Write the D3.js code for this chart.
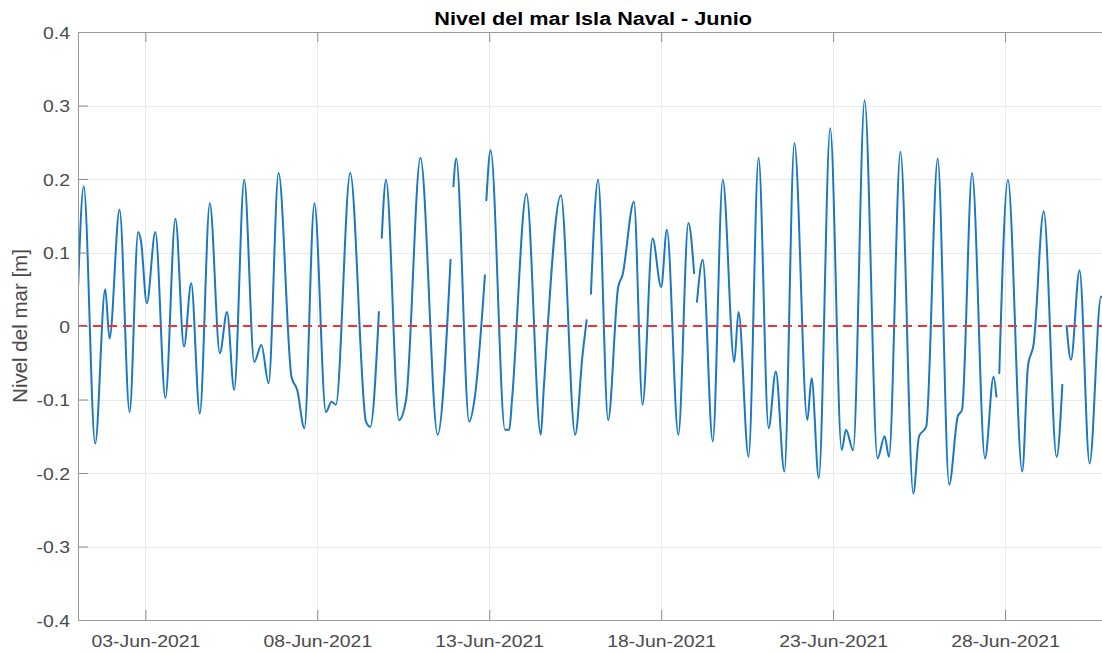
<!DOCTYPE html>
<html>
<head>
<meta charset="utf-8">
<script src="https://cdn.jsdelivr.net/npm/d3@7"></script>
<style>
  body { margin: 0; background: #fff; }
  text { font-family: "Liberation Sans", Arial, Helvetica, sans-serif; }
</style>
</head>
<body>
<svg id="chart" width="1102" height="654"></svg>
<script>
// Sea level record, June 2021: hours since 2021-06-01 00:00 UTC and level in metres.
// null marks a gap in the record.
const hours = [
  1, 5, 13, 20, 23, 30, 37, 43, 45, 49, 55, 62, 69, 75, 80, 86, 93, 100, 105, 110, 117,
  124, 129, 134, 141, 150, 154, 159, 166, 174, 178, 181, 191, 202, 205, 211, 212, 213, 216, 225, 230, 240,
  252, 261, 262, 263, 265, 274, 278, 285, 285.5, 286, 289, 299, 302, 304, 314, 324, 326, 338, 348, 353, 356, 357.5, 359,
  364, 371, 378, 381, 389, 395, 402, 408, 412, 420, 427, 431, 432, 433, 437, 444, 451, 459, 462, 469, 476,
  483, 488, 494, 501, 510, 513, 518, 526, 534, 537, 542, 550, 559, 564, 567, 575, 584, 588, 593,
  601, 609, 615, 618, 625, 634, 640, 642, 643, 644, 650, 660, 664, 668, 675, 684, 688, 689.5, 691, 694, 700, 707, 715, 718
];
const level = [
  0.05, 0.19, -0.16, 0.05, -0.017, 0.158, -0.117, 0.128, 0.115, 0.031, 0.128, -0.098, 0.146, -0.028, 0.058, -0.119, 0.167, -0.037, 0.019, -0.087, 0.199,
  -0.049, -0.026, -0.078, 0.208, -0.069, -0.087, -0.139, 0.167, -0.117, -0.103, -0.107, 0.208, -0.13, -0.137, 0.019, null, 0.12, 0.199, -0.128, -0.1, 0.229,
  -0.148, 0.09, null, 0.19, 0.228, -0.13, -0.096, 0.069, null, 0.171, 0.239, -0.141, -0.141, -0.098, 0.18, -0.148, -0.087, 0.178, -0.148, -0.042, 0.008, null, 0.044,
  0.199, -0.128, 0.053, 0.069, 0.169, -0.107, 0.119, 0.053, 0.131, -0.148, 0.14, 0.072, null, 0.033, 0.09, -0.157, 0.199, -0.049, 0.019, -0.178, 0.229,
  -0.139, -0.062, -0.198, 0.249, -0.128, -0.071, -0.207, 0.269, -0.169, -0.141, -0.169, 0.307, -0.18, -0.15, -0.178, 0.237, -0.228, -0.15, -0.137,
  0.228, -0.216, -0.123, -0.114, 0.208, -0.18, -0.069, -0.096, null, -0.064, 0.199, -0.198, -0.055, -0.024, 0.156, -0.178, -0.08, null, 0.0, -0.046, 0.076, -0.187, 0.04, 0.03
];

const xTickDays = ["2021-06-03", "2021-06-08", "2021-06-13", "2021-06-18", "2021-06-23", "2021-06-28"];
const yTicks = [-0.4, -0.3, -0.2, -0.1, 0, 0.1, 0.2, 0.3, 0.4];
const referenceLevel = 0;
const titleText = "Nivel del mar Isla Naval - Junio";
const yLabelText = "Nivel del mar [m]";

const start = Date.UTC(2021, 5, 1);
const series = hours.map((h, i) => ({ t: new Date(start + h * 3600e3), v: level[i] }));
const xTicks = xTickDays.map(d => new Date(d + "T00:00:00Z"));

// Plot box
const L = 78, R = 1108.2, T = 32, B = 620;
const stretch = 1.14;           // glyphs are drawn slightly wide
const tickColor = "#8c8c8c";
const textColor = "#4a4a4a";

const svg = d3.select("#chart");
svg.append("rect").attr("width", 1102).attr("height", 654).attr("fill", "#fff");

const x = d3.scaleUtc()
  .domain([new Date(start + 3600e3), new Date(Date.UTC(2021, 6, 1))])
  .range([L, R]);
const y = d3.scaleLinear().domain([-0.4, 0.4]).range([B, T]);

// Grid
const grid = svg.append("g").attr("stroke", "#e9e9e9").attr("stroke-width", 1);
grid.selectAll(".gx").data(xTicks).join("line")
  .attr("x1", d => Math.round(x(d)) + 0.5).attr("x2", d => Math.round(x(d)) + 0.5)
  .attr("y1", T).attr("y2", B);
grid.selectAll(".gy").data(yTicks).join("line")
  .attr("x1", L).attr("x2", R)
  .attr("y1", d => Math.round(y(d)) + 0.5).attr("y2", d => Math.round(y(d)) + 0.5);

// Clip for the data
svg.append("clipPath").attr("id", "plotClip")
  .append("rect").attr("x", L).attr("y", T).attr("width", R - L).attr("height", B - T);

// Sea level line
const line = d3.line()
  .defined(d => d.v !== null)
  .x(d => x(d.t))
  .y(d => y(d.v))
  .curve(d3.curveMonotoneX);

svg.append("path")
  .datum(series)
  .attr("clip-path", "url(#plotClip)")
  .attr("fill", "none")
  .attr("stroke", "#1a78c2")
  .attr("stroke-width", 2)
  .attr("stroke-linejoin", "round")
  .attr("stroke-linecap", "round")
  .attr("d", line);

// Zero reference line
svg.append("line")
  .attr("x1", L).attr("x2", R)
  .attr("y1", y(referenceLevel)).attr("y2", y(referenceLevel))
  .attr("stroke", "#ee3535")
  .attr("stroke-width", 1.8)
  .attr("stroke-dasharray", "9,6");

// Axes
const fmtDay = d3.utcFormat("%d-%b-%Y");
const fmtY = d => d === 0 ? "0" : d.toFixed(1);

function styleAxis(g) {
  g.select(".domain").remove();
  g.selectAll(".tick line").attr("stroke", tickColor);
}

const xAxis = svg.append("g").attr("transform", `translate(0,${B})`)
  .call(d3.axisBottom(x).tickValues(xTicks).tickFormat(fmtDay).tickSizeInner(-10).tickSizeOuter(0));
styleAxis(xAxis);
xAxis.selectAll(".tick text")
  .attr("y", 27).attr("dy", 0)
  .attr("fill", textColor)
  .style("font-size", "17px")
  .attr("transform", `scale(${stretch},1)`);

const xTop = svg.append("g").attr("transform", `translate(0,${T})`)
  .call(d3.axisTop(x).tickValues(xTicks).tickFormat("").tickSizeInner(-10).tickSizeOuter(0));
styleAxis(xTop);

const yAxis = svg.append("g").attr("transform", `translate(${L},0)`)
  .call(d3.axisLeft(y).tickValues(yTicks).tickFormat(fmtY).tickSizeInner(-10).tickSizeOuter(0));
styleAxis(yAxis);
yAxis.selectAll(".tick text")
  .attr("x", -8 / stretch).attr("dy", "0.36em")
  .attr("fill", textColor)
  .style("font-size", "17px")
  .attr("transform", `scale(${stretch},1)`);

// Box
svg.append("rect")
  .attr("x", L + 0.5).attr("y", T + 0.5)
  .attr("width", R - L).attr("height", B - T)
  .attr("fill", "none").attr("stroke", "#9a9a9a").attr("stroke-width", 1);

// Title
svg.append("g").attr("transform", `translate(${(L + R) / 2},25)`)
  .append("text")
  .attr("text-anchor", "middle")
  .attr("transform", `scale(${stretch},1)`)
  .attr("fill", "#000")
  .style("font-size", "19px")
  .style("font-weight", "bold")
  .text(titleText);

// Y axis label
svg.append("text")
  .attr("transform", `translate(27,${(T + B) / 2}) rotate(-90)`)
  .attr("text-anchor", "middle")
  .attr("fill", textColor)
  .style("font-size", "20.5px")
  .text(yLabelText);
</script>
</body>
</html>
